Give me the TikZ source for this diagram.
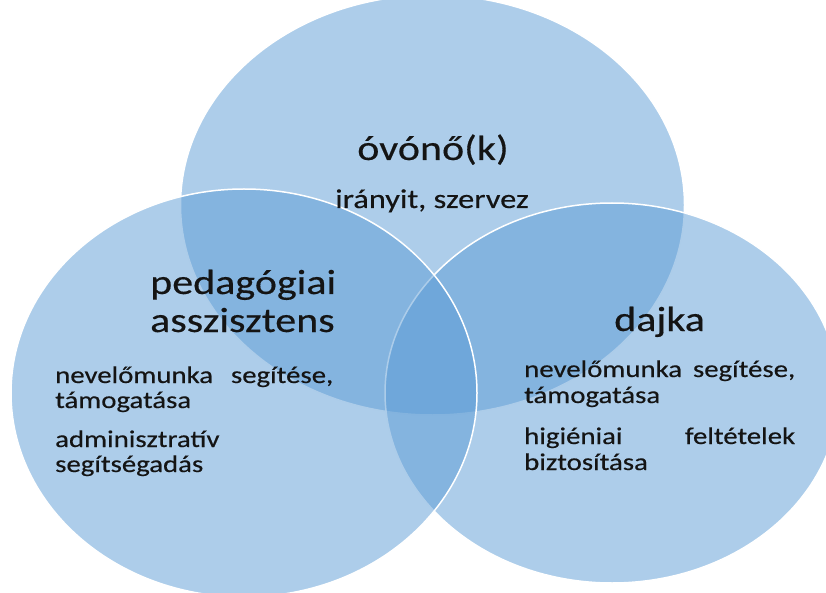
\documentclass[tikz,border=0pt]{standalone}
\usepackage{fontspec}
\setmainfont{Carlito}[FakeStretch=1.2,FakeBold=0.4]
\definecolor{venn}{RGB}{91,155,213}
\definecolor{ink}{RGB}{20,20,20}
\tikzset{
  circ/.style={fill=venn, fill opacity=0.5, draw=white, line width=1.5pt},
  title/.style={font=\fontsize{35}{41}\selectfont, text=ink, anchor=base west, inner sep=0pt},
  body/.style={font=\fontsize{24}{29}\selectfont, text=ink, anchor=base west, inner sep=0pt},
}
\begin{document}
\begin{tikzpicture}[x=1pt,y=-1pt]
\useasboundingbox (0,0) rectangle (826,593);
% ellipses
\path[circ] (432.5,205) ellipse [x radius=252, y radius=210];
\path[circ] (612,393) ellipse [x radius=227, y radius=190];
\path[circ] (244,393) ellipse [x radius=233, y radius=204];
% top
\node[title, anchor=base] (t1) at (433,160) {óvónő(k)};
\node[body, font=\fontsize{27}{32}\selectfont, anchor=base] (t2) at (432,208) {irányit, szervez};
% left
\node[title] (l1) at (150,294) {pedagógiai};
\node[title] (l2) at (150,332) {asszisztens};
\node[body] (l3) at (55,383) {\makebox[278pt][s]{nevelőmunka segítése,}};
\node[body] (l4) at (55,408) {támogatása};
\node[body] (l5) at (55,447) {adminisztratív};
\node[body] (l6) at (55,472) {segítségadás};
% right
\node[title] (r1) at (614,331) {dajka};
\node[body] (r2) at (524,377) {\makebox[271pt][s]{nevelőmunka segítése,}};
\node[body] (r3) at (524,403) {támogatása};
\node[body] (r4) at (524,444) {\makebox[271pt][s]{higiéniai feltételek}};
\node[body] (r5) at (524,470) {biztosítása};
\end{tikzpicture}
\end{document}
